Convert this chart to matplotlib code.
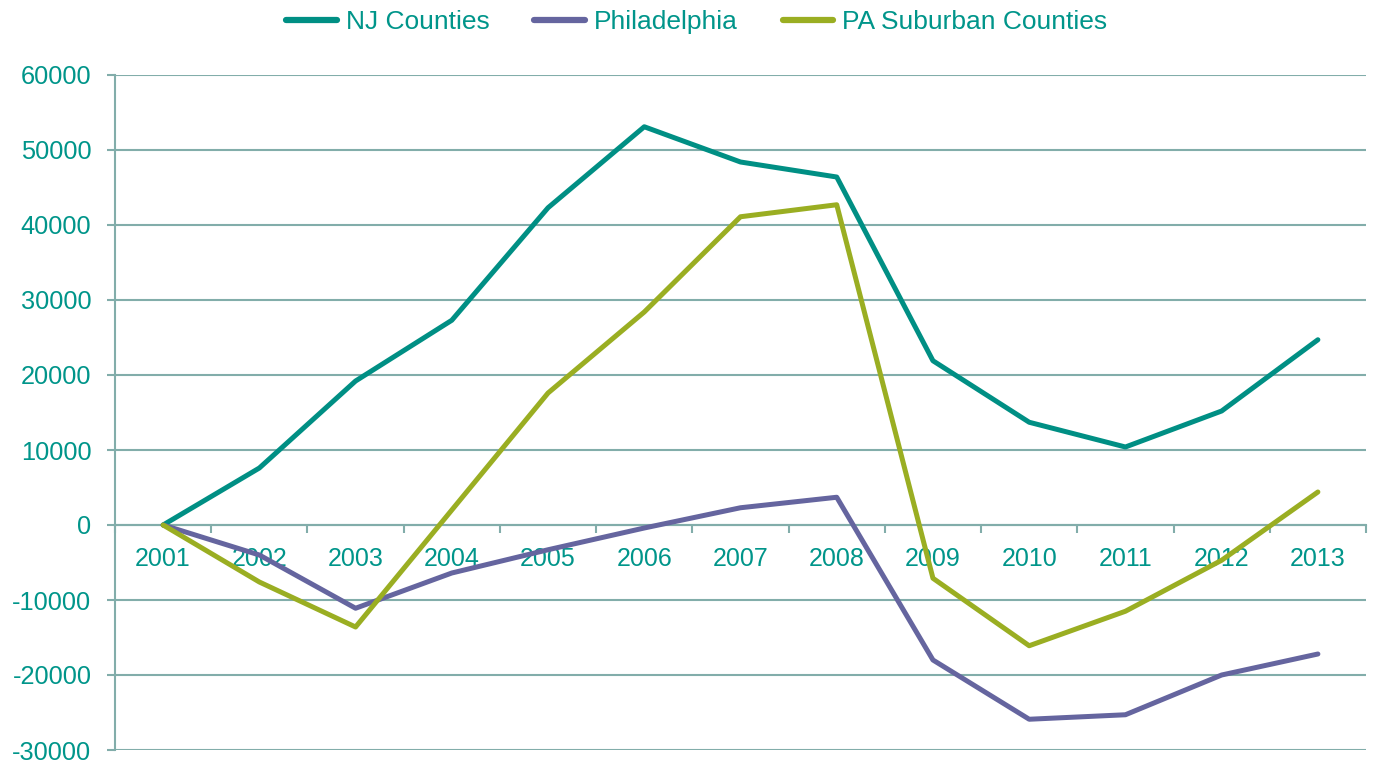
import matplotlib.pyplot as plt

plt.rcParams['font.family'] = ['Liberation Sans', 'DejaVu Sans']
plt.rcParams['axes.unicode_minus'] = False

years = ['2001', '2002', '2003', '2004', '2005', '2006', '2007',
         '2008', '2009', '2010', '2011', '2012', '2013']
nj = [0, 7600, 19200, 27300, 42300, 53100, 48400, 46400, 21900, 13700, 10400, 15200, 24700]
philly = [0, -4000, -11100, -6400, -3300, -400, 2300, 3700, -18000, -25900, -25300, -20000, -17200]
pa_sub = [0, -7600, -13600, 2000, 17600, 28400, 41100, 42700, -7100, -16100, -11500, -4700, 4400]

text_c = '#00958A'
axis_c = '#82ADAA'

fig = plt.figure(figsize=(13.77, 7.64), dpi=100)
ax = fig.add_axes([115 / 1377, 14 / 764, 1251 / 1377, 675 / 764])

x = list(range(len(years)))
ax.plot(x, nj, color='#008F84', lw=3.6, label='NJ Counties', solid_capstyle='round', zorder=3)
ax.plot(x, philly, color='#65659F', lw=3.6, label='Philadelphia', solid_capstyle='round', zorder=3)
ax.plot(x, pa_sub, color='#9AAE22', lw=3.6, label='PA Suburban Counties', solid_capstyle='round', zorder=3)

ax.set_xlim(-0.5, len(years) - 0.5)
ax.set_ylim(-30000, 60000)
ax.set_yticks(range(-30000, 60001, 10000))
ax.yaxis.grid(True, color=axis_c, lw=1.5)
ax.set_axisbelow(True)

for s in ['top', 'right']:
    ax.spines[s].set_visible(False)
ax.spines['left'].set_color(axis_c)
ax.spines['left'].set_linewidth(1.5)
ax.spines['bottom'].set_position(('data', 0))
ax.spines['bottom'].set_color(axis_c)
ax.spines['bottom'].set_linewidth(1.5)

ax.set_xticks([i - 0.5 for i in range(len(years) + 1)])
ax.set_xticklabels([])
ax.set_xticks(x, minor=True)
ax.set_xticklabels(years, minor=True)
ax.tick_params(axis='x', which='major', length=6, width=1.5, color=axis_c, direction='out')
ax.tick_params(axis='x', which='minor', length=0, pad=16, labelsize=18, labelcolor=text_c)
ax.tick_params(axis='y', length=6, width=1.5, color=axis_c, pad=11, labelsize=18.3, labelcolor=text_c)

leg = fig.legend(loc='center', bbox_to_anchor=(0.506, 0.971), ncol=3, frameon=False,
                 fontsize=19, handlelength=1.9, handletextpad=0.35, columnspacing=1.7)
for t in leg.get_texts():
    t.set_color(text_c)
for h in leg.get_lines():
    h.set_linewidth(4.5)

fig.savefig('out.png', dpi=100)
